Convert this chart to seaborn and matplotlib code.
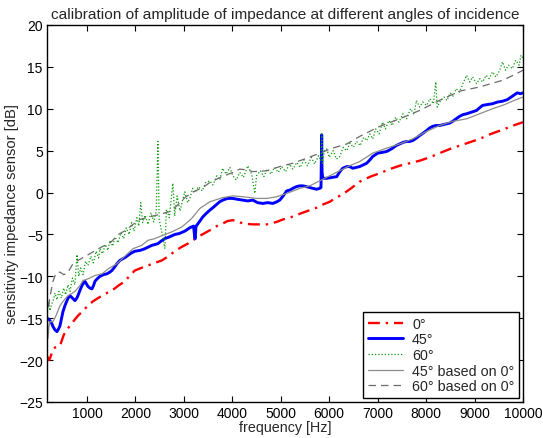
import matplotlib
matplotlib.use("Agg")
import matplotlib.pyplot as plt
import seaborn as sns
import numpy as np

# ---- data ----
red_x = [175, 210, 237, 300, 340, 443, 520, 608, 700, 814, 920, 1020, 1120, 1227, 1370, 1515, 1650, 1783,
         1900, 1990, 2120, 2258, 2400, 2546, 2680, 2814, 2950, 3082, 3185, 3350, 3536, 3680, 3804, 3900,
         4010, 4100, 4217, 4423, 4600, 4712, 4918, 5050, 5186, 5320, 5454, 5600, 5743, 5880, 6010, 6150,
         6279, 6450, 6629, 6850, 7041, 7250, 7454, 7660, 7866, 8070, 8278, 8490, 8691, 8900, 9103, 9340,
         9577, 9800, 10000]
red_y = [-19.5, -20.0, -19.8, -18.7, -18.5, -18.3, -17.0, -16.2, -15.5, -14.7, -14.1, -13.5, -13.0, -12.6,
         -12.1, -11.7, -11.1, -10.6, -9.8, -9.3, -9.0, -8.7, -8.4, -8.1, -7.6, -7.0, -6.5, -6.1, -5.7, -5.1,
         -4.5, -4.0, -3.7, -3.4, -3.3, -3.4, -3.7, -3.8, -3.8, -3.8, -3.5, -3.2, -3.0, -2.7, -2.4, -2.1,
         -1.8, -1.4, -1.1, -0.6, -0.2, 0.5, 1.3, 1.9, 2.3, 2.8, 3.2, 3.5, 3.8, 4.2, 4.7, 5.2, 5.6, 6.0,
         6.4, 7.0, 7.5, 8.0, 8.4]

blue_x = [175, 210, 237, 270, 299, 340, 381, 420, 443, 475, 505, 545, 587, 620, 649, 700, 752, 790, 814,
          860, 897, 930, 959, 990, 1020, 1060, 1103, 1135, 1165, 1210, 1268, 1340, 1412, 1470, 1515, 1570,
          1618, 1680, 1742, 1800, 1845, 1920, 1990, 2100, 2196, 2270, 2340, 2400, 2464, 2530, 2608, 2700,
          2814, 2900, 3021, 3123, 3200, 3225, 3235, 3250, 3268, 3330, 3392, 3460, 3536, 3600, 3680, 3740,
          3804, 3900, 4010, 4100, 4217, 4320, 4423, 4520, 4629, 4730, 4835, 4920, 4979, 5050, 5124, 5190,
          5248, 5320, 5392, 5460, 5536, 5600, 5660, 5740, 5804, 5830, 5845, 5852, 5866, 5949, 6050, 6155,
          6220, 6279, 6361, 6423, 6485, 6560, 6629, 6700, 6773, 6840, 6897, 7000, 7100, 7185, 7250, 7309,
          7380, 7454, 7530, 7598, 7660, 7722, 7800, 7866, 7940, 8010, 8070, 8134, 8200, 8278, 8350, 8423,
          8490, 8547, 8620, 8691, 8760, 8835, 8940, 9041, 9100, 9165, 9260, 9371, 9470, 9577, 9680, 9780,
          9880, 9950, 10000]
blue_y = [-15.0, -15.1, -15.3, -15.6, -16.0, -16.4, -16.6, -16.2, -15.9, -15.0, -14.2, -13.5, -12.9, -12.5,
          -12.3, -12.6, -12.9, -12.6, -12.3, -11.6, -11.1, -10.8, -10.6, -10.9, -11.2, -11.4, -11.5, -11.1,
          -10.6, -10.3, -10.0, -9.8, -9.7, -9.5, -9.3, -8.9, -8.5, -8.1, -7.9, -7.7, -7.5, -7.2, -7.0, -6.9,
          -6.7, -6.5, -6.3, -6.2, -6.1, -5.8, -5.5, -5.3, -5.0, -4.9, -4.6, -4.2, -4.0, -5.4, -5.5, -4.0,
          -3.9, -3.4, -2.9, -2.5, -2.1, -1.8, -1.4, -1.1, -0.9, -0.7, -0.7, -0.8, -0.9, -1.0, -0.9, -1.2,
          -1.3, -1.2, -1.3, -1.1, -0.9, -0.4, 0.2, 0.3, 0.5, 0.7, 0.8, 0.8, 0.7, 0.6, 0.5, 0.4, 0.5, 0.6,
          6.9, 2.5, 1.7, 1.7, 1.8, 1.9, 2.5, 2.9, 3.1, 3.1, 2.9, 3.0, 3.1, 3.3, 3.5, 3.9, 4.3, 4.7, 4.8,
          4.9, 5.1, 5.3, 5.6, 5.8, 6.0, 6.1, 6.1, 6.2, 6.5, 6.8, 7.1, 7.4, 7.7, 7.9, 8.0, 8.0, 8.1, 8.2,
          8.3, 8.5, 8.8, 9.1, 9.3, 9.4, 9.6, 9.8, 10.1, 10.4, 10.5, 10.6, 10.8, 10.9, 11.1, 11.5, 11.9,
          11.8, 11.9]

green_x = [175, 205, 237, 270, 299, 340, 380, 420, 470, 520, 560, 608, 650, 700, 750, 794, 830, 870, 920,
           970, 1020, 1080, 1130, 1190, 1240, 1268, 1320, 1380, 1430, 1474, 1530, 1580, 1640, 1700, 1760,
           1810, 1870, 1920, 1970, 2030, 2070, 2110, 2150, 2200, 2260, 2320, 2380, 2430, 2464, 2490, 2540,
           2608, 2640, 2700, 2773, 2810, 2860, 2920, 2970, 3020, 3080, 3123, 3180, 3230, 3300, 3380, 3450,
           3536, 3600, 3680, 3742, 3800, 3870, 3950, 4010, 4080, 4155, 4230, 4320, 4400, 4464, 4500, 4580,
           4650, 4720, 4800, 4870, 4950, 5020, 5100, 5180, 5250, 5330, 5400, 5480, 5550, 5630, 5700, 5780,
           5830, 5846, 5860, 5900, 5950, 6000, 6080, 6150, 6217, 6290, 6361, 6430, 6500, 6567, 6640, 6710,
           6773, 6840, 6900, 6960, 7030, 7100, 7160, 7230, 7300, 7370, 7440, 7520, 7598, 7680, 7750, 7800,
           7866, 7930, 8010, 8080, 8150, 8200, 8230, 8300, 8370, 8430, 8500, 8560, 8620, 8691, 8760, 8835,
           8900, 8960, 9041, 9110, 9165, 9240, 9300, 9371, 9440, 9520, 9577, 9640, 9700, 9780, 9850, 9920,
           9960, 10000]
green_y = [-14.5, -13.2, -14.1, -13.3, -13.0, -12.0, -12.8, -11.8, -12.6, -11.4, -12.2, -11.0, -11.8, -10.2,
           -11.0, -7.4, -10.0, -9.0, -9.8, -8.2, -8.7, -7.6, -8.4, -7.0, -7.8, -6.7, -7.3, -6.2, -6.9, -5.7,
           -6.4, -5.3, -6.0, -4.8, -5.5, -4.2, -5.0, -3.6, -4.6, -3.0, -4.0, -1.2, -3.6, -2.7, -3.8, -2.4,
           -3.5, -2.2, 6.1, -3.2, -4.6, -6.7, -2.0, -3.0, 1.1, -2.8, -0.4, -2.2, -1.0, 0.1, -1.2, -0.7, 0.5,
           0.0, 0.7, 0.2, 1.2, 1.4, 0.9, 2.0, 1.5, 2.9, 2.2, 3.0, 2.0, 1.5, 2.4, 1.8, 3.2, 2.2, -0.1, 2.0,
           2.6, 1.9, 2.8, 2.2, 3.0, 2.4, 3.1, 2.5, 3.4, 2.8, 3.6, 3.0, 3.9, 3.2, 4.2, 3.4, 4.4, 3.8, 7.0,
           3.5, 5.0, 5.2, 4.2, 5.0, 4.0, 4.3, 5.4, 5.0, 5.9, 5.4, 6.1, 5.6, 6.6, 6.2, 7.0, 6.4, 7.6, 7.0,
           8.4, 7.6, 8.6, 8.0, 9.0, 8.4, 9.4, 8.8, 10.0, 9.3, 11.0, 10.2, 10.8, 10.4, 11.2, 10.6, 13.2, 10.2,
           11.0, 11.4, 11.0, 11.9, 11.5, 12.4, 12.0, 13.0, 14.0, 13.2, 13.8, 13.0, 13.6, 13.2, 14.0, 13.6,
           14.4, 13.8, 14.6, 15.6, 14.6, 15.2, 14.8, 15.8, 15.2, 16.4, 16.0]

g45_x = [175, 185, 195, 215, 237, 299, 360, 443, 505, 608, 700, 752, 855, 917, 1020, 1165, 1310, 1440, 1618,
         1783, 1950, 2130, 2258, 2400, 2567, 2750, 2960, 3160, 3330, 3536, 3804, 4010, 4217, 4505, 4712,
         4918, 5124, 5392, 5598, 5804, 6010, 6217, 6423, 6629, 6897, 7185, 7454, 7722, 8010, 8278, 8547,
         8835, 9103, 9371, 9620, 9820, 10000]
g45_y = [-12.6, -15.0, -17.4, -16.0, -15.4, -15.4, -14.7, -13.5, -13.0, -12.3, -12.0, -11.8, -11.1, -10.5,
         -10.3, -9.9, -9.7, -9.1, -8.5, -7.6, -6.7, -6.3, -5.7, -5.5, -5.1, -4.7, -4.1, -3.1, -1.9, -1.1,
         -0.6, -0.4, -0.5, -0.7, -0.7, -0.5, -0.1, 0.5, 0.8, 1.4, 2.0, 2.6, 3.2, 3.7, 4.7, 5.3, 5.8, 6.4,
         7.3, 8.0, 8.5, 8.8, 9.4, 10.0, 10.5, 11.0, 11.4]

g60_x = [175, 205, 240, 299, 360, 443, 520, 600, 700, 814, 1000, 1150, 1300, 1480, 1650, 1800, 1950, 2100,
         2300, 2500, 2750, 3021, 3200, 3392, 3536, 3750, 4010, 4155, 4300, 4423, 4712, 4979, 5248, 5536,
         5804, 6072, 6361, 6629, 7041, 7454, 7866, 8278, 8691, 9103, 9577, 9800, 10000]
g60_y = [-12.5, -13.8, -12.3, -10.6, -9.6, -9.5, -9.8, -9.6, -8.6, -8.1, -7.5, -7.0, -6.5, -6.0, -5.0, -4.5,
         -3.8, -3.2, -2.9, -2.6, -2.2, -0.6, 0.1, 0.6, 1.2, 1.8, 2.4, 2.8, 2.7, 2.5, 2.6, 3.1, 3.5, 4.1,
         4.7, 5.3, 5.8, 6.7, 7.9, 8.8, 9.8, 11.0, 12.1, 12.6, 13.4, 14.0, 14.6]

x_ticks = [1000, 2000, 3000, 4000, 5000, 6000, 7000, 8000, 9000, 10000]
y_ticks = [-25, -20, -15, -10, -5, 0, 5, 10, 15, 20]

# ---- plot ----
sns.set_style("white")
plt.rcParams['font.family'] = ['Liberation Sans', 'DejaVu Sans']
plt.rcParams['axes.unicode_minus'] = True
fs = 10.0

fig = plt.figure(figsize=(5.43, 4.39), dpi=100)
ax = fig.add_axes([47/543, 1-403/439, (523-47)/543, (403-26)/439])

kw = dict(ax=ax, estimator=None, sort=False)
sns.lineplot(x=red_x, y=red_y, color=(1, 0, 0), linestyle=(0, (5, 2.5, 1, 2.5)), linewidth=1.7,
             label="0°", **kw)
sns.lineplot(x=blue_x, y=blue_y, color=(0, 0, 1), linestyle='-', linewidth=2.1, label="45°", **kw)
sns.lineplot(x=green_x, y=green_y, color=(0.05, 0.6, 0.05), linestyle=(0, (1, 1.6)), linewidth=0.9,
             label="60°", **kw)
sns.lineplot(x=g45_x, y=g45_y, color=(0.55, 0.55, 0.55), linestyle='-', linewidth=0.9,
             label="45° based on 0°", **kw)
sns.lineplot(x=g60_x, y=g60_y, color=(0.42, 0.42, 0.42), linestyle=(0, (6, 4)), linewidth=0.9,
             label="60° based on 0°", **kw)

ax.set_xlim(175, 10000)
ax.set_ylim(-25, 20)
ax.set_xticks(x_ticks)
ax.set_yticks(y_ticks)
ax.set_xticklabels([str(v) for v in x_ticks], fontsize=fs)
ax.set_yticklabels([str(v).replace('-', '\u2212') for v in y_ticks], fontsize=fs)
ax.tick_params(direction='in', length=4, width=0.8, top=True, right=True, bottom=True, left=True,
               pad=3, colors='black')
for s in ax.spines.values():
    s.set_visible(True)
    s.set_color('black')
    s.set_linewidth(1.0)

ax.set_xlabel("frequency [Hz]", fontsize=10.3, labelpad=0)
ax.set_ylabel("sensitivity impedance sensor [dB]", fontsize=10.6, labelpad=0)
ax.set_title("calibration of amplitude of impedance at different angles of incidence", fontsize=11.1, pad=5)

leg = ax.legend(loc='lower right', fontsize=10.3, frameon=True, fancybox=False, framealpha=1,
                edgecolor='black', borderaxespad=0.3, labelspacing=0.12, handlelength=2.5,
                handletextpad=0.6, borderpad=0.3)
leg.get_frame().set_linewidth(1.0)

fig.savefig("out.png", dpi=100)
